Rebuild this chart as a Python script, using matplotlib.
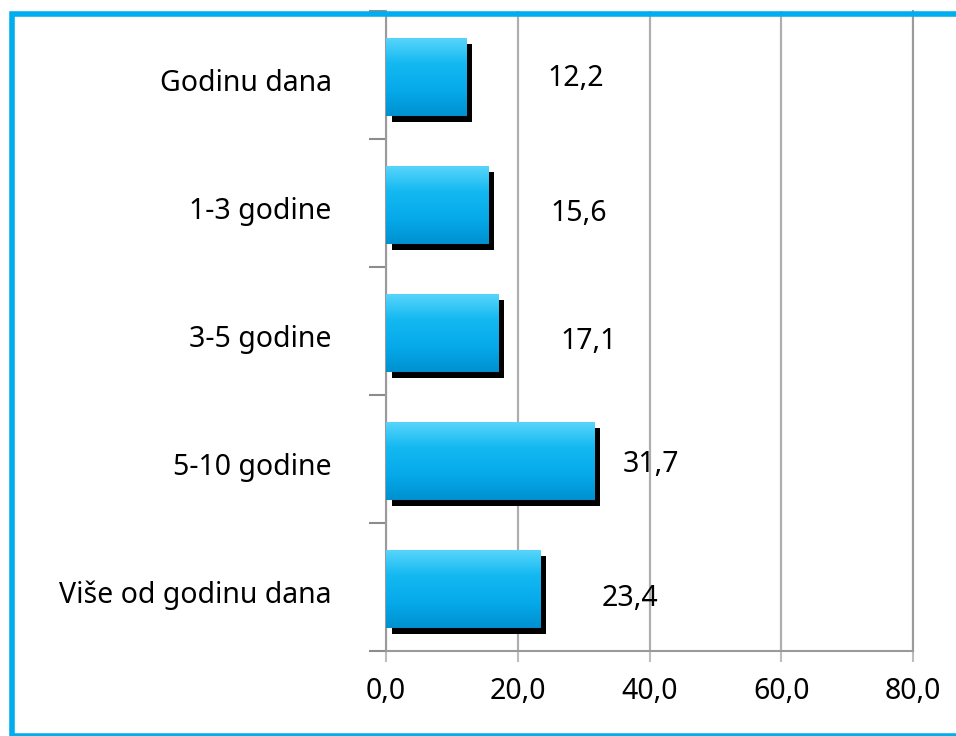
import matplotlib
matplotlib.use("Agg")
import matplotlib.pyplot as plt
import matplotlib.patheffects as pe
import matplotlib.transforms as mtransforms
from matplotlib.patches import Rectangle
from matplotlib.colors import LinearSegmentedColormap
import numpy as np

categories = ["Godinu dana", "1-3 godine", "3-5 godine", "5-10 godine", "Više od godinu dana"]
values = [12.2, 15.6, 17.1, 31.7, 23.4]
value_labels = ["12,2", "15,6", "17,1", "31,7", "23,4"]
xticks = [0, 20, 40, 60, 80]
xtick_labels = ["0,0", "20,0", "40,0", "60,0", "80,0"]

# label placement (layout only)
label_x = [28.8, 29.3, 30.7, 40.2, 37.1]
label_dy = [0.03, 0.08, 0.08, 0.04, 0.09]

plt.rcParams['font.family'] = ['Noto Sans', 'DejaVu Sans']
FS = 20.5

fig = plt.figure(figsize=(9.56, 7.36), dpi=100)
ax = fig.add_axes([386/956, 1-651/736, (913-386)/956, (651-11)/736])

ypos = np.arange(len(categories))
bar_h = 0.61
bars = ax.barh(ypos + 0.015, values, height=bar_h, color="#00AEEF", zorder=3,
               path_effects=[pe.SimplePatchShadow(offset=(4, -4.5), shadow_rgbFace="black", alpha=1.0),
                             pe.Normal()])

cmap = LinearSegmentedColormap.from_list("g", ["#5AD6FB", "#14B8F1", "#06AAEA", "#0090D0"])
grad = np.linspace(0, 1, 256).reshape(-1, 1)
for b in bars:
    x0, y0 = b.get_x(), b.get_y()
    w, h = b.get_width(), b.get_height()
    im = ax.imshow(grad, aspect="auto", cmap=cmap, extent=(x0, x0 + w, y0 + h, y0),
                   zorder=4, interpolation="bilinear")
    im.set_clip_path(b)

for i, lab in enumerate(value_labels):
    ax.text(label_x[i], ypos[i] + label_dy[i], lab, ha="center", va="center",
            fontsize=FS, color="black", zorder=6)

ax.set_xlim(0, 80)
ax.set_ylim(len(categories) - 0.5, -0.5)
ax.set_xticks(xticks)
ax.set_xticklabels(xtick_labels, fontsize=FS)
ax.set_yticks(ypos)
ax.set_yticklabels(categories, fontsize=FS)
ax.tick_params(axis="y", length=0, pad=39)
ax.set_yticks(np.arange(-0.5, len(categories), 1.0), minor=True)
ax.tick_params(axis="y", which="minor", length=12, color="#8C8C8C", width=1.5)
ax.tick_params(axis="x", length=8, color="#BDBDBD", width=1.5, pad=11)
ax.xaxis.grid(True, color="#AEAEAE", linewidth=1.6, zorder=1)
ax.set_axisbelow(True)
for s in ["left", "bottom", "right"]:
    ax.spines[s].set_color("#9A9A9A")
    ax.spines[s].set_linewidth(1.5)
ax.spines["top"].set_visible(False)

shift = mtransforms.ScaledTranslation(0, -5/100, fig.dpi_scale_trans)
for t in ax.get_yticklabels():
    t.set_transform(t.get_transform() + shift)

# outer blue frame
fig.patches.append(Rectangle((12/956, 1-736/736), (970-12)/956, (736-14)/736,
                             transform=fig.transFigure, fill=False,
                             edgecolor="#00AEEF", linewidth=4, zorder=10))

fig.savefig("out.png", dpi=100)
